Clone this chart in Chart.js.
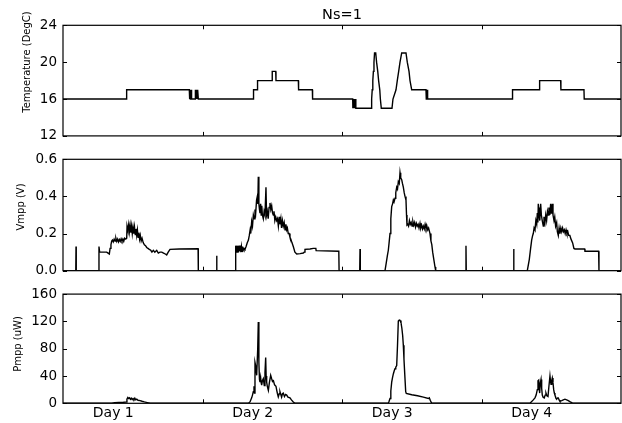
<!DOCTYPE html>
<html>
<head>
<meta charset="utf-8">
<script src="https://cdn.jsdelivr.net/npm/chart.js@4"></script>
<style>
  html, body { margin: 0; padding: 0; background: #fff; }
  #wrap { position: relative; width: 622px; height: 423px; }
  canvas { position: absolute; left: 0; }
</style>
</head>
<body>
<div id="wrap">
  <canvas id="tempChart" width="622" height="150" style="top:0px"></canvas>
  <canvas id="vmppChart" width="622" height="145" style="top:140px"></canvas>
  <canvas id="pmppChart" width="622" height="143" style="top:280px"></canvas>
</div>
<script>
// x values are hours since start of the log (4 days shown)
const chartTitle = 'Ns=1';
const dayLabels = ['Day 1', 'Day 2', 'Day 3', 'Day 4'];
const dayLabelHours = [8.65, 32.65, 56.65, 80.65];
const dayEdgeHours = [24, 48, 72];

// [hour, degC]
const temperature = [
  [0,16],[10.9,16],[10.95,17],[21.73,17],[21.76,16],[21.82,17],[21.9,16],[21.96,17],[22.04,16],[22.1,17],[22.14,16],
  [22.71,16],[22.74,17],[22.82,16],[22.9,17],[22.98,16],[23.06,17],[23.14,16],[23.2,17],[23.28,16],
  [32.74,16],[32.78,17],[33.43,17],[33.47,18],[35.96,18],[36.0,19],[36.6,19],[36.64,18],[40.49,18],[40.53,17],
  [42.9,17],[42.94,16],[49.84,16],[49.87,15],[49.95,16],[50.03,15],[50.12,16],[50.2,15],[50.3,16],[50.38,15],
  [52.99,15],[53.1,16],[53.2,17],[53.3,18],[53.4,19],[53.5,20],[53.6,21],[53.8,21],[53.95,20],[54.15,19],[54.3,18],
  [54.5,17],[54.6,16],[54.76,15],[56.6,15],[56.77,16],[57.29,17],[57.51,18],[57.75,19],[57.98,20],[58.27,21],
  [59.01,21],[59.23,20],[59.53,19],[59.7,18],[59.99,17],[62.45,17],[62.5,16],[62.56,17],[62.64,16],[62.7,17],[62.76,16],
  [77.3,16],[77.34,17],[81.9,17],[81.94,18],[82.0,17],[82.06,18],[85.62,18],[85.66,17],[89.63,17],[89.67,16],[96,16]
];

// [hour, V]
const vmpp = [
  [0,0],[2.2,0],[2.24,0.13],[2.28,0],[6.15,0],[6.19,0.13],[6.3,0.1],[7.0,0.1],[7.52,0.1],[7.75,0.095],[7.97,0.09],
  [8.1,0.12],[8.25,0.14],[8.38,0.16],[8.5,0.165],[8.65,0.155],[8.8,0.17],[8.95,0.16],[9.1,0.175],[9.25,0.158],
  [9.4,0.17],[9.55,0.155],[9.7,0.168],[9.85,0.158],[10.0,0.172],[10.15,0.16],[10.3,0.17],[10.45,0.158],[10.6,0.175],
  [10.8,0.17],[10.96,0.175],[11.02,0.24],[11.15,0.22],[11.3,0.25],[11.42,0.21],[11.55,0.245],[11.68,0.205],[11.8,0.24],
  [11.92,0.2],[12.05,0.235],[12.18,0.2],[12.3,0.235],[12.43,0.195],[12.55,0.225],[12.68,0.19],[12.8,0.22],[12.93,0.18],
  [13.05,0.205],[13.18,0.17],[13.3,0.19],[13.45,0.16],[13.6,0.175],[13.81,0.15],[14.0,0.14],[14.2,0.135],[14.4,0.125],
  [14.62,0.12],[14.85,0.115],[15.1,0.11],[15.3,0.1],[15.54,0.11],[15.8,0.1],[16.12,0.11],[16.4,0.095],[16.69,0.1],
  [17.0,0.1],[17.3,0.095],[17.6,0.09],[17.84,0.085],[18.1,0.1],[18.41,0.115],[20.0,0.117],[23.24,0.118],[23.28,0],
  [26.4,0],[26.44,0.08],[26.48,0],[29.68,0],[29.71,0.135],[29.8,0.1],[29.9,0.135],[30.0,0.1],[30.1,0.135],[30.2,0.1],
  [30.3,0.135],[30.4,0.105],[30.5,0.135],[30.6,0.1],[30.7,0.13],[30.8,0.105],[30.9,0.13],[31.0,0.11],[31.15,0.12],
  [31.31,0.115],[31.5,0.13],[31.7,0.15],[31.9,0.165],[32.05,0.19],[32.2,0.22],[32.3,0.2],[32.46,0.264],[32.6,0.24],
  [32.75,0.3],[32.9,0.28],[33.03,0.33],[33.15,0.31],[33.3,0.38],[33.43,0.4],[33.52,0.36],[33.6,0.506],[33.7,0.36],
  [33.8,0.33],[33.89,0.31],[34.0,0.36],[34.1,0.3],[34.2,0.35],[34.3,0.3],[34.46,0.28],[34.6,0.32],[34.75,0.3],
  [34.92,0.45],[35.02,0.3],[35.15,0.32],[35.3,0.28],[35.45,0.34],[35.61,0.365],[35.75,0.33],[35.9,0.35],[36.05,0.31],
  [36.18,0.3],[36.3,0.32],[36.45,0.27],[36.6,0.29],[36.76,0.27],[36.9,0.28],[37.05,0.24],[37.2,0.29],[37.33,0.25],
  [37.48,0.28],[37.6,0.23],[37.75,0.27],[37.9,0.24],[38.05,0.26],[38.2,0.22],[38.35,0.25],[38.48,0.22],[38.6,0.23],
  [38.75,0.2],[38.9,0.2],[39.05,0.18],[39.2,0.17],[39.4,0.15],[39.62,0.13],[39.9,0.1],[40.21,0.09],[40.8,0.092],
  [41.34,0.095],[41.5,0.1],[41.63,0.115],[42.5,0.117],[43.06,0.12],[43.5,0.12],[43.55,0.108],[47.45,0.105],[47.5,0],
  [51.05,0],[51.1,0.117],[51.15,0],[55.4,0],[55.6,0.04],[55.8,0.08],[55.97,0.11],[56.1,0.15],[56.26,0.2],[56.4,0.28],
  [56.55,0.345],[56.7,0.36],[56.83,0.38],[56.95,0.37],[57.12,0.39],[57.25,0.42],[57.41,0.45],[57.55,0.44],[57.69,0.48],
  [57.85,0.47],[57.98,0.528],[58.1,0.5],[58.27,0.49],[58.4,0.47],[58.55,0.45],[58.7,0.42],[58.84,0.4],[59.01,0.38],
  [59.1,0.3],[59.18,0.246],[59.3,0.25],[59.45,0.24],[59.6,0.27],[59.75,0.25],[59.9,0.26],[60.05,0.24],[60.2,0.265],
  [60.35,0.245],[60.5,0.26],[60.65,0.235],[60.8,0.255],[60.95,0.24],[61.1,0.25],[61.25,0.23],[61.42,0.255],[61.55,0.23],
  [61.7,0.245],[61.85,0.225],[61.99,0.24],[62.15,0.225],[62.3,0.25],[62.45,0.23],[62.57,0.245],[62.75,0.22],[62.9,0.23],
  [63.14,0.2],[63.3,0.16],[63.45,0.14],[63.6,0.1],[63.8,0.06],[64.0,0.02],[64.12,0],
  [69.28,0],[69.33,0.135],[69.38,0],[77.5,0],[77.54,0.117],[77.58,0],
  [79.88,0],[80.22,0.06],[80.45,0.12],[80.63,0.165],[80.8,0.19],[80.91,0.2],[81.05,0.23],[81.2,0.22],[81.35,0.27],
  [81.5,0.25],[81.6,0.31],[81.7,0.26],[81.77,0.36],[81.9,0.3],[82.0,0.34],[82.06,0.27],[82.18,0.36],[82.3,0.3],
  [82.45,0.27],[82.63,0.24],[82.75,0.29],[82.92,0.26],[83.05,0.3],[83.2,0.27],[83.35,0.32],[83.49,0.3],[83.6,0.34],
  [83.75,0.3],[83.9,0.36],[84.0,0.31],[84.1,0.33],[84.18,0.36],[84.3,0.3],[84.47,0.27],[84.6,0.29],[84.75,0.24],
  [84.93,0.26],[85.05,0.21],[85.21,0.19],[85.35,0.23],[85.5,0.2],[85.65,0.23],[85.8,0.21],[85.95,0.23],[86.1,0.21],
  [86.25,0.22],[86.4,0.2],[86.55,0.22],[86.7,0.2],[86.85,0.21],[87.0,0.19],[87.2,0.19],[87.4,0.17],[87.68,0.15],
  [87.9,0.12],[88.08,0.117],[89.75,0.117],[89.8,0.105],[92.15,0.105],[92.21,0],[96,0]
];

// [hour, uW]
const pmpp = [
  [0,0],[8.38,0],[8.9,0.8],[9.6,1.2],[10.4,1.5],[10.9,2],[11.0,6],[11.15,8.5],[11.3,7],[11.45,8],[11.6,6],[11.75,7.5],
  [11.9,5.5],[12.05,7],[12.2,5.5],[12.35,7.5],[12.5,5],[12.7,6],[12.9,4.5],[13.25,4],[13.6,3],[14.0,2],[14.5,1],[15.0,0],
  [31.88,0],[32.17,2],[32.46,8],[32.6,12],[32.74,17],[32.86,25],[32.95,15],[33.03,60],[33.15,55],[33.32,41],[33.5,80],
  [33.6,119],[33.7,60],[33.8,35],[33.89,31],[34.0,38],[34.1,30],[34.18,26.5],[34.3,33],[34.46,36],[34.63,26],[34.75,45],
  [34.87,67],[34.95,40],[35.04,31],[35.15,25],[35.33,19],[35.5,30],[35.73,41],[35.9,36],[36.05,32],[36.2,33],[36.4,27],
  [36.64,25],[36.8,18],[36.9,14],[37.04,9.5],[37.2,14],[37.33,17],[37.5,12],[37.61,9],[37.75,14],[37.9,15],[38.1,10],
  [38.3,13],[38.48,12],[38.7,9],[39.05,8],[39.3,5],[39.62,2],[39.91,0],
  [55.97,0],[56.1,3],[56.26,7],[56.4,18],[56.55,31],[56.7,38],[56.83,43],[57.0,48],[57.12,50.6],[57.25,53],[57.41,55.4],
  [57.55,85],[57.69,120.5],[57.85,122],[57.98,121.5],[58.15,118],[58.3,110],[58.44,99],[58.55,85],[58.66,65],[58.8,42],
  [58.96,17],[59.06,14.5],[60.0,12.5],[61.0,11],[62.0,9],[62.85,7],[63.02,8],[63.2,4],[63.43,0],
  [80.34,0],[80.91,5],[81.2,8],[81.4,12],[81.6,20],[81.72,33],[81.84,34],[81.93,22],[82.01,15],[82.12,30],[82.24,35],
  [82.35,22],[82.46,12],[82.6,9],[82.8,8],[82.95,12],[83.09,15],[83.25,11],[83.44,10],[83.6,25],[83.78,40],[83.87,33],
  [83.96,28],[84.07,33],[84.18,37],[84.3,30],[84.42,20],[84.53,15],[84.64,12],[84.8,8],[84.93,6],[85.1,8],[85.21,8],
  [85.35,5],[85.5,3],[85.8,4],[86.07,5],[86.36,6],[86.65,5],[86.93,4],[87.2,2.5],[87.51,1],[87.79,0],[96,0]
];

Chart.defaults.font.family = '"DejaVu Sans", sans-serif';
Chart.defaults.color = '#000';

// matplotlib-like frame with inward ticks, rotated y label and optional title
const frameTicks = {
  id: 'frameTicks',
  afterDraw(chart, args, opts) {
    const { ctx, chartArea: a, scales } = chart;
    ctx.save();
    ctx.strokeStyle = '#000';
    ctx.lineWidth = 1;
    ctx.beginPath();
    dayEdgeHours.forEach(h => {
      const x = Math.round(scales.x.getPixelForValue(h)) + 0.5;
      ctx.moveTo(x, a.top); ctx.lineTo(x, a.top + 4);
      ctx.moveTo(x, a.bottom); ctx.lineTo(x, a.bottom - 4);
    });
    scales.y.ticks.forEach(t => {
      const y = Math.round(scales.y.getPixelForValue(t.value)) + 0.5;
      ctx.moveTo(a.left, y); ctx.lineTo(a.left + 4, y);
      ctx.moveTo(a.right, y); ctx.lineTo(a.right - 4, y);
    });
    ctx.stroke();
    ctx.lineWidth = 1.2;
    ctx.strokeRect(a.left, a.top, a.right - a.left, a.bottom - a.top);
    ctx.fillStyle = '#000';
    if (opts.title) {
      ctx.font = '14.5px "DejaVu Sans"';
      ctx.textAlign = 'center';
      ctx.textBaseline = 'alphabetic';
      ctx.fillText(opts.title, (a.left + a.right) / 2, a.top - 6);
    }
    if (opts.yLabel) {
      ctx.font = '10px "DejaVu Sans"';
      ctx.textAlign = 'center';
      ctx.textBaseline = 'middle';
      ctx.translate(opts.yLabelX, opts.yLabelY);
      ctx.rotate(-Math.PI / 2);
      ctx.fillText(opts.yLabel, 0, 0);
    }
    ctx.restore();
  }
};

function makePanel(id, points, yMin, yMax, yStep, fmt, pad, showDays, labelOpts) {
  const xAxis = { type: 'linear', min: 0, max: 96, display: false };
  if (showDays) {
    Object.assign(xAxis, {
      display: true,
      grid: { display: false, drawTicks: false },
      border: { display: false },
      afterBuildTicks: s => { s.ticks = dayLabelHours.map(v => ({ value: v })); },
      afterFit: s => { s.height = 19.7; },
      ticks: {
        autoSkip: false, maxRotation: 0, padding: 2,
        font: { size: 14 },
        callback: (v, i) => dayLabels[i]
      }
    });
  }
  new Chart(document.getElementById(id), {
    type: 'line',
    data: {
      datasets: [{
        data: points.map(p => ({ x: p[0], y: p[1] })),
        borderColor: '#000',
        borderWidth: 1.4,
        pointRadius: 0,
        fill: false,
        tension: 0
      }]
    },
    options: {
      responsive: false,
      animation: false,
      devicePixelRatio: 1,
      layout: { padding: pad },
      plugins: { legend: { display: false }, tooltip: { enabled: false }, frameTicks: labelOpts },
      scales: {
        x: xAxis,
        y: {
          min: yMin, max: yMax,
          grid: { display: false, drawTicks: false },
          border: { display: false },
          afterFit: s => { s.width = 63 - pad.left; },
          ticks: { stepSize: yStep, padding: 6, font: { size: 13.5 }, callback: fmt }
        }
      }
    },
    plugins: [frameTicks]
  });
}

makePanel('tempChart', temperature, 12, 24, 4, v => v,
  { top: 25.3, bottom: 13.7, left: 0, right: 1 }, false,
  { title: chartTitle, yLabel: 'Temperature (DegC)', yLabelX: 27.5, yLabelY: 62 });
makePanel('vmppChart', vmpp, 0, 0.6, 0.2, v => v.toFixed(1),
  { top: 19.3, bottom: 14.3, left: 0, right: 1 }, false,
  { yLabel: 'Vmpp (V)', yLabelX: 21.3, yLabelY: 67 });
makePanel('pmppChart', pmpp, 0, 160, 40, v => v,
  { top: 12.7, bottom: 0, left: 0, right: 1 }, true,
  { yLabel: 'Pmpp (uW)', yLabelX: 18.7, yLabelY: 64 });
</script>
</body>
</html>
